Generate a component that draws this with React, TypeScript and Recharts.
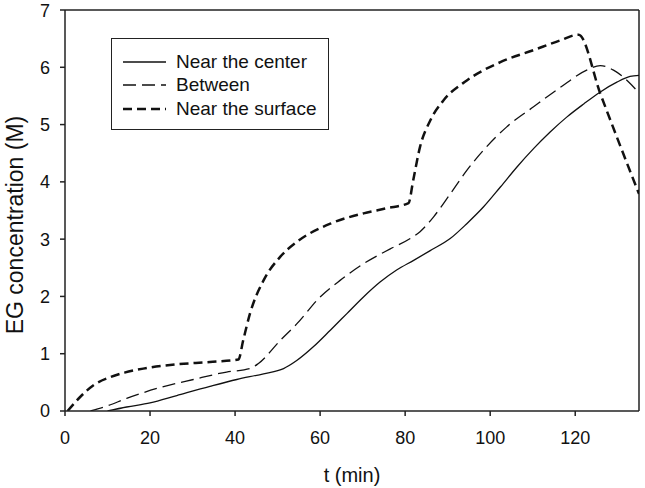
import { LineChart, Line, XAxis, YAxis, ReferenceLine, Legend } from "recharts";

const xTicks = [0, 20, 40, 60, 80, 100, 120];
const yTicks = [0, 1, 2, 3, 4, 5, 6, 7];

// Near the center (solid)
const centerT = [10, 14.5, 20, 26.3, 34.1, 40.4, 46.7, 51.4, 54.5, 58.4, 62.4, 66.3, 70.2, 74.1, 78, 82, 85.9, 90.6, 94.5, 98.4, 102.4, 106.3, 110.2, 114.1, 118, 122, 125.9, 129.8, 132.9, 135];
const centerC = [0, 0.07, 0.14, 0.27, 0.43, 0.55, 0.65, 0.74, 0.88, 1.12, 1.41, 1.7, 1.99, 2.25, 2.46, 2.63, 2.8, 3.01, 3.27, 3.56, 3.91, 4.26, 4.58, 4.87, 5.13, 5.36, 5.57, 5.74, 5.84, 5.86];

// Between (long dash)
const betweenT = [6, 10, 14.5, 22.4, 30.2, 38, 43.5, 45.5, 50.6, 54.5, 60, 64.7, 70.2, 76.5, 81.2, 83.5, 86.7, 90.6, 94.5, 98.4, 103.9, 110.2, 116.5, 122.7, 125.9, 129, 132.2, 135];
const betweenC = [0, 0.09, 0.22, 0.41, 0.55, 0.68, 0.74, 0.83, 1.23, 1.52, 1.99, 2.28, 2.57, 2.83, 3.01, 3.13, 3.39, 3.79, 4.2, 4.55, 4.96, 5.31, 5.65, 5.95, 6.03, 5.95, 5.77, 5.55];

// Near the surface (short thick dash)
const surfaceT = [0.6, 3.5, 6.7, 10.6, 14, 18.4, 26.3, 34.1, 40.8, 41.9, 43.5, 46.7, 50.6, 54.5, 62.4, 70.2, 75.7, 80.8, 81.9, 83.5, 85.9, 89, 94.5, 102.4, 110.2, 116.5, 120.8, 125.9, 129.8, 135];
const surfaceC = [0, 0.24, 0.45, 0.59, 0.67, 0.74, 0.815, 0.855, 0.9, 1.23, 1.7, 2.28, 2.69, 2.95, 3.27, 3.45, 3.54, 3.63, 4.03, 4.61, 5.07, 5.42, 5.77, 6.09, 6.3, 6.47, 6.57, 5.54, 4.78, 3.79];

const zip = (ts: number[], cs: number[]) => ts.map((t, i) => ({ t, c: cs[i] }));

const series = [
  { name: "Near the center", data: zip(centerT, centerC), dash: undefined, width: 1.3 },
  { name: "Between", data: zip(betweenT, betweenC), dash: "13 6", width: 1.3 },
  { name: "Near the surface", data: zip(surfaceT, surfaceC), dash: "9 5", width: 2.5 },
];

const font = "'Liberation Sans', Arial, sans-serif";
const tick = { fill: "#111", fontSize: 18, fontFamily: font };

function LegendBox() {
  return (
    <div style={{ border: "1.3px solid #222", width: 216, height: 90, boxSizing: "content-box", background: "#fff", fontFamily: font, fontSize: 19, color: "#111" }}>
      {series.map((s, i) => (
        <div key={s.name} style={{ display: "flex", alignItems: "center", height: 23.5, marginTop: i === 0 ? 11 : 0 }}>
          <svg width={43} height={10} style={{ marginLeft: 11 }}>
            <line x1={0} y1={5} x2={43} y2={5} stroke="#111" strokeWidth={s.width} strokeDasharray={s.dash} />
          </svg>
          <span style={{ marginLeft: 10 }}>{s.name}</span>
        </div>
      ))}
    </div>
  );
}

export default function App() {
  return (
    <div style={{ position: "absolute", left: 0, top: 0, background: "#fff" }}>
      <LineChart width={645} height={488} margin={{ top: 10, right: 6, left: 0, bottom: 0 }}>
        <XAxis
          type="number"
          dataKey="t"
          domain={[0, 135]}
          ticks={xTicks}
          allowDataOverflow
          height={77}
          tick={tick}
          tickSize={5}
          tickMargin={15}
          axisLine={{ stroke: "#222", strokeWidth: 1.5 }}
          tickLine={{ stroke: "#222", strokeWidth: 1.5 }}
          label={{ value: "t (min)", position: "insideBottom", offset: 6, fill: "#111", fontSize: 20, fontFamily: font }}
        />
        <YAxis
          type="number"
          domain={[0, 7]}
          ticks={yTicks}
          allowDataOverflow
          width={65}
          tick={tick}
          tickSize={5}
          tickMargin={10}
          axisLine={{ stroke: "#222", strokeWidth: 1.5 }}
          tickLine={{ stroke: "#222", strokeWidth: 1.5 }}
          label={{
            content: () => (
              <text x={15} y={225} transform="rotate(-90 15 225)" textAnchor="middle" dominantBaseline="central" fill="#111" fontSize={23} fontFamily={font}>
                EG concentration (M)
              </text>
            ),
          }}
        />
        <ReferenceLine y={7} stroke="#222" strokeWidth={1.5} />
        <ReferenceLine x={135} stroke="#222" strokeWidth={1.5} />
        {series.map((s) => (
          <Line
            key={s.name}
            name={s.name}
            data={s.data}
            dataKey="c"
            type="monotone"
            stroke="#111"
            strokeWidth={s.width}
            strokeDasharray={s.dash}
            dot={false}
            activeDot={false}
            isAnimationActive={false}
          />
        ))}
        <Legend
          layout="vertical"
          align="center"
          verticalAlign="middle"
          content={() => <LegendBox />}
          wrapperStyle={{ left: 111, top: 38, width: 220 }}
        />
      </LineChart>
    </div>
  );
}
